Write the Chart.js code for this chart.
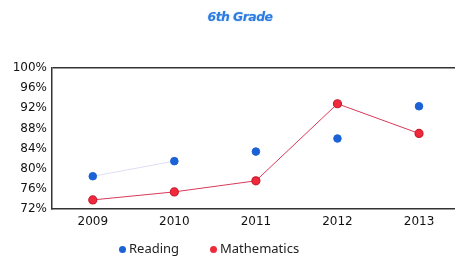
<!DOCTYPE html>
<html>
<head>
<meta charset="utf-8">
<script src="https://cdn.jsdelivr.net/npm/chart.js@4/dist/chart.umd.min.js"></script>
<style>
  html, body { margin: 0; padding: 0; background: #fff; overflow: hidden; width: 455px; height: 258px; }
  #wrap { position: absolute; left: 0; top: 0; width: 465px; height: 258px; }
  #title { position: absolute; top: 9px; left: 200px; width: 80px; text-align: center;
    font: italic bold 12.5px "DejaVu Sans", Verdana, sans-serif; letter-spacing: -0.6px; color: #2c7be0;
    text-shadow: 0 0 2px #bcd6f6; }
  .leg { position: absolute; top: 239px; font: 13px "Noto Sans", sans-serif; color: #222; }
  .dot { display: inline-block; width: 7px; height: 7px; border-radius: 50%; margin-right: 3px; vertical-align: 0px; }
</style>
</head>
<body>
<div id="wrap"><canvas id="chart" width="465" height="258"></canvas></div>
<div id="title">6th Grade</div>
<div class="leg" style="left:119px"><span class="dot" style="background:#1a62d6"></span>Reading</div>
<div class="leg" style="left:210px"><span class="dot" style="background:#ec2a3c"></span>Mathematics</div>
<script>
// données
const years = ["2009", "2010", "2011", "2012", "2013"];
const reading = [78.5, 81.5, 83.4, 86.0, 92.4];
const maths = [73.8, 75.4, 77.6, 92.9, 87.0];
const yTicks = [72, 76, 80, 84, 88, 92, 96, 100];

const ctx = document.getElementById("chart").getContext("2d");
const chart = new Chart(ctx, {
    type: "line",
    data: {
        labels: years,
        datasets: [{
            label: "Reading",
            data: reading,
            borderWidth: 1,
            segment: {
                borderColor: c => c.p0DataIndex === 0 ? "rgba(160,160,220,0.35)" : "transparent"
            },
            pointBackgroundColor: "#1a62d6",
            pointBorderColor: "#1a62d6",
            pointRadius: 3.8
        }, {
            label: "Mathematics",
            data: maths,
            borderColor: "#d83a58",
            borderWidth: 1,
            pointBackgroundColor: "#f02a3c",
            pointBorderColor: "#c81e30",
            pointBorderWidth: 1.2,
            pointRadius: 4
        }]
    },
    options: {
        responsive: false,
        animation: false,
        layout: { padding: { top: 68, right: 1, left: 0, bottom: 0 } },
        plugins: { legend: { display: false }, tooltip: { enabled: false } },
        scales: {
            x: {
                offset: true,
                grid: { color: "transparent", drawTicks: false },
                border: { display: true, color: "#333", width: 1.5 },
                ticks: { padding: 6, color: "#111", font: { family: "DejaVu Sans", size: 12 } },
                afterFit: s => { s.height = 49; }
            },
            y: {
                min: 72,
                max: 100,
                afterBuildTicks: s => { s.ticks = yTicks.map(v => ({ value: v })); },
                grid: { color: c => c.tick && c.tick.value === 100 ? "#333" : "transparent", lineWidth: 1.5, drawTicks: false },
                border: { display: true, color: "#333", width: 1.5 },
                ticks: { padding: 5, color: "#111", font: { family: "DejaVu Sans", size: 12 }, callback: v => v + "%" },
                afterFit: s => { s.width = 52; }
            }
        }
    }
});
</script>
</body>
</html>
